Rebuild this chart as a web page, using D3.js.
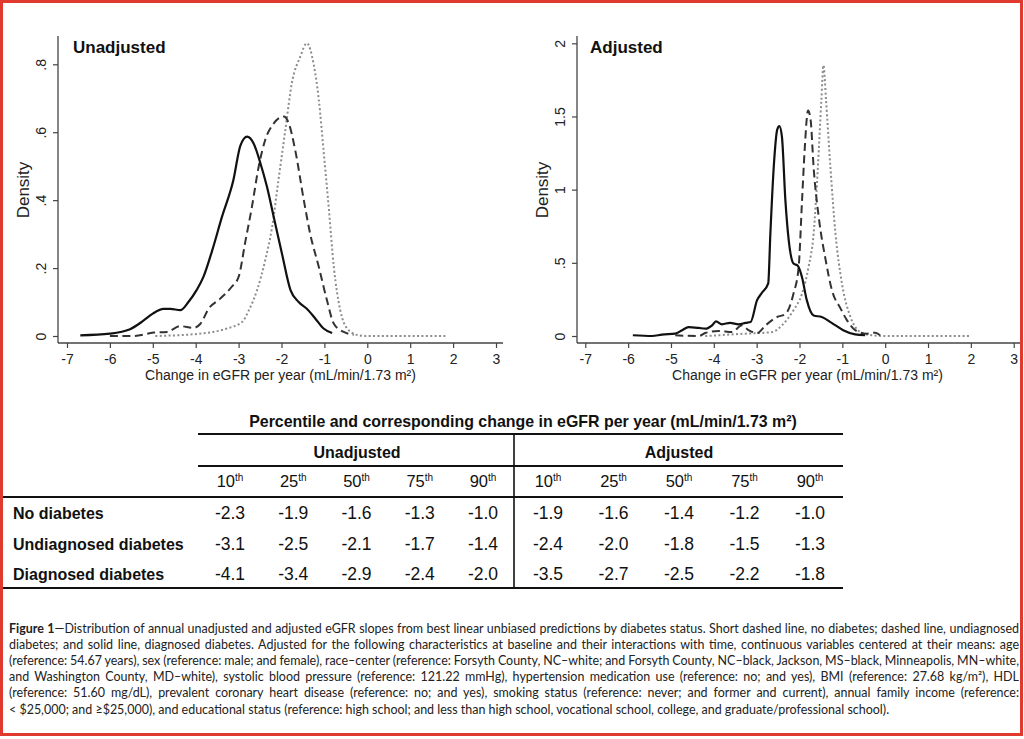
<!DOCTYPE html>
<html><head><meta charset="utf-8">
<script src="https://cdn.jsdelivr.net/npm/d3@7"></script>
<style>body{margin:0;background:#fff}svg{display:block}</style>
</head><body>
<svg id="c" width="1024" height="739"></svg>
<script>
// ---------- data ----------
const xTicks = [-7,-6,-5,-4,-3,-2,-1,0,1,2,3];
const yTicksUnadjusted = [0,0.2,0.4,0.6,0.8];
const yTicksAdjusted = [0,0.5,1,1.5,2];

// Unadjusted densities [slope, density]
const unadjNoDiabetes = [[-4.94,0],[-3.89,0.007],[-3.27,0.022],[-2.92,0.041],[-2.76,0.076],[-2.57,0.135],[-2.38,0.223],[-2.22,0.32],[-2.07,0.46],[-1.91,0.607],[-1.76,0.744],[-1.56,0.823],[-1.41,0.862],[-1.25,0.80],[-1.13,0.695],[-1.02,0.547],[-0.90,0.38],[-0.78,0.203],[-0.63,0.076],[-0.47,0.022],[-0.20,0.002],[0,0],[1.86,0]];
const unadjUndiagnosed = [[-6.0,0],[-5.45,0],[-4.98,0.01],[-4.67,0.012],[-4.36,0.029],[-4.05,0.024],[-3.89,0.036],[-3.70,0.08],[-3.43,0.11],[-3.16,0.145],[-3.0,0.174],[-2.84,0.28],[-2.69,0.38],[-2.53,0.50],[-2.38,0.577],[-2.18,0.626],[-1.95,0.646],[-1.83,0.626],[-1.68,0.547],[-1.48,0.40],[-1.33,0.30],[-1.13,0.203],[-0.94,0.105],[-0.78,0.036],[-0.55,0.012],[-0.32,0.004]];
const unadjDiagnosed = [[-6.69,0.002],[-6.0,0.007],[-5.53,0.02],[-5.22,0.045],[-5.0,0.066],[-4.75,0.08],[-4.59,0.08],[-4.36,0.076],[-4.17,0.10],[-3.98,0.135],[-3.82,0.174],[-3.62,0.25],[-3.39,0.35],[-3.12,0.46],[-2.96,0.56],[-2.80,0.587],[-2.65,0.567],[-2.49,0.508],[-2.34,0.44],[-2.18,0.35],[-1.99,0.243],[-1.79,0.135],[-1.60,0.10],[-1.41,0.08],[-1.21,0.051],[-1.02,0.022],[-0.82,0.009]];

// Adjusted densities [slope, density]
const adjNoDiabetes = [[-4.20,0],[-3.26,0.016],[-2.64,0.027],[-2.41,0.073],[-2.14,0.176],[-1.94,0.29],[-1.79,0.47],[-1.67,0.70],[-1.57,1.16],[-1.49,1.61],[-1.44,1.85],[-1.38,1.61],[-1.28,1.16],[-1.16,0.70],[-1.01,0.36],[-0.81,0.13],[-0.58,0.027],[-0.31,0.005],[0,0],[1.98,0]];
const adjUndiagnosed = [[-4.90,0.005],[-4.35,0],[-4.20,0.02],[-3.89,0.035],[-3.58,0.027],[-3.34,0.073],[-3.19,0.04],[-2.99,0.02],[-2.79,0.073],[-2.52,0.13],[-2.33,0.15],[-2.14,0.29],[-2.02,0.47],[-1.94,0.93],[-1.88,1.27],[-1.80,1.54],[-1.74,1.475],[-1.67,1.15],[-1.55,0.81],[-1.39,0.52],[-1.24,0.31],[-1.04,0.187],[-0.89,0.107],[-0.70,0.04],[-0.43,0.016],[-0.23,0.023],[-0.12,0.005]];
const adjDiagnosed = [[-5.89,0.005],[-5.44,0],[-5.21,0.01],[-4.90,0.016],[-4.74,0.04],[-4.59,0.06],[-4.35,0.055],[-4.20,0.05],[-4.04,0.073],[-3.95,0.10],[-3.81,0.08],[-3.62,0.09],[-3.42,0.08],[-3.26,0.09],[-3.14,0.096],[-2.99,0.245],[-2.89,0.29],[-2.73,0.36],[-2.68,0.70],[-2.60,1.16],[-2.52,1.41],[-2.47,1.434],[-2.41,1.36],[-2.33,0.93],[-2.25,0.65],[-2.14,0.495],[-2.04,0.48],[-1.94,0.40],[-1.83,0.245],[-1.67,0.14],[-1.48,0.13],[-1.25,0.09],[-0.98,0.04],[-0.70,0.011],[-0.47,0.005]];

// Table
const groups = ["No diabetes","Undiagnosed diabetes","Diagnosed diabetes"];
const percentiles = ["10","25","50","75","90"];
const unadjustedPct = [[-2.3,-1.9,-1.6,-1.3,-1.0],[-3.1,-2.5,-2.1,-1.7,-1.4],[-4.1,-3.4,-2.9,-2.4,-2.0]];
const adjustedPct = [[-1.9,-1.6,-1.4,-1.2,-1.0],[-2.4,-2.0,-1.8,-1.5,-1.3],[-3.5,-2.7,-2.5,-2.2,-1.8]];

const captionLines = [
 "Figure 1—Distribution of annual unadjusted and adjusted eGFR slopes from best linear unbiased predictions by diabetes status. Short dashed line, no diabetes; dashed line, undiagnosed",
 "diabetes; and solid line, diagnosed diabetes. Adjusted for the following characteristics at baseline and their interactions with time, continuous variables centered at their means: age",
 "(reference: 54.67 years), sex (reference: male; and female), race–center (reference: Forsyth County, NC–white; and Forsyth County, NC–black, Jackson, MS–black, Minneapolis, MN–white,",
 "and Washington County, MD–white), systolic blood pressure (reference: 121.22 mmHg), hypertension medication use (reference: no; and yes), BMI (reference: 27.68 kg/m²), HDL",
 "(reference: 51.60 mg/dL), prevalent coronary heart disease (reference: no; and yes), smoking status (reference: never; and former and current), annual family income (reference:",
 "< $25,000; and ≥$25,000), and educational status (reference: high school; and less than high school, vocational school, college, and graduate/professional school)."
];

// ---------- drawing ----------
const svg = d3.select("#c");
const SANS = "Arial, 'Liberation Sans', Helvetica, sans-serif";
svg.append("rect").attr("width",1024).attr("height",739).attr("fill","#fff");

const styles = {
  none: {stroke:"#8c8c8c", width:2, dash:"2,2.4"},
  undiag: {stroke:"#333", width:2, dash:"8,4.5"},
  diag: {stroke:"#111", width:2.2, dash:null}
};

function fmtY(d){ if(d===0) return "0"; let s = String(d); return s.replace(/^0\./,"."); }

function panel(cfg){
  const g = svg.append("g");
  const x = d3.scaleLinear().domain([-7,3]).range(cfg.xr);
  const y = d3.scaleLinear().domain([0, cfg.ymax]).range([336, cfg.ytop]);
  g.append("line").attr("x1",cfg.ax).attr("x2",cfg.ax).attr("y1",36).attr("y2",343).attr("stroke","#444").attr("stroke-width",1.3);
  g.append("line").attr("x1",cfg.ax).attr("x2",cfg.axEnd).attr("y1",343).attr("y2",343).attr("stroke","#444").attr("stroke-width",1.3);
  const xa = g.append("g").attr("transform","translate(0,343)")
    .call(d3.axisBottom(x).tickValues(xTicks).tickSize(5).tickPadding(6).tickFormat(d=>String(d)));
  xa.select(".domain").remove();
  xa.selectAll("line").attr("stroke","#444").attr("stroke-width",1.2);
  xa.selectAll("text").attr("font-family",SANS).attr("font-size",14).attr("fill","#222");
  const ya = g.append("g").attr("transform",`translate(${cfg.ax},0)`)
    .call(d3.axisLeft(y).tickValues(cfg.yt).tickSize(5).tickFormat(fmtY));
  ya.select(".domain").remove();
  ya.selectAll("line").attr("stroke","#444").attr("stroke-width",1.2);
  ya.selectAll("text").attr("font-family",SANS).attr("font-size",14).attr("fill","#222")
    .attr("transform","rotate(-90)").attr("x",0).attr("y",-12).attr("dy",0).attr("text-anchor","middle");
  g.append("text").attr("transform",`translate(${cfg.ax-29},190) rotate(-90)`).attr("text-anchor","middle")
    .attr("font-family",SANS).attr("font-size",17).attr("fill","#222").text("Density");
  g.append("text").attr("x",cfg.xtc).attr("y",380).attr("text-anchor","middle")
    .attr("font-family",SANS).attr("font-size",14).attr("fill","#222").text("Change in eGFR per year (mL/min/1.73 m²)");
  g.append("text").attr("x",cfg.ax+cfg.labelDx).attr("y",53).attr("font-family",SANS).attr("font-weight","bold")
    .attr("font-size",17).attr("fill","#111").text(cfg.label);
  const line = d3.line().x(d=>x(d[0])).y(d=>y(d[1])).curve(d3.curveMonotoneX);
  cfg.series.forEach(([data,st])=>{
    g.append("path").attr("d",line(data)).attr("fill","none").attr("stroke",st.stroke)
     .attr("stroke-width",st.width).attr("stroke-dasharray",st.dash).attr("stroke-linejoin","round");
  });
}

panel({xr:[67,496], ymax:0.8, ytop:64.3, yt:yTicksUnadjusted, ax:58, axEnd:503, xtc:280.5, label:"Unadjusted", labelDx:15,
  series:[[unadjNoDiabetes,styles.none],[unadjUndiagnosed,styles.undiag],[unadjDiagnosed,styles.diag]]});
panel({xr:[585.3,1013.7], ymax:2, ytop:43.3, yt:yTicksAdjusted, ax:577, axEnd:1020, xtc:807.5, label:"Adjusted", labelDx:13,
  series:[[adjNoDiabetes,styles.none],[adjUndiagnosed,styles.undiag],[adjDiagnosed,styles.diag]]});

// ---------- table ----------
const t = svg.append("g").attr("font-family",SANS).attr("fill","#111");
const title = t.append("text").attr("x",523).attr("y",427).attr("text-anchor","middle").attr("font-weight","bold").attr("font-size",15)
  .text("Percentile and corresponding change in eGFR per year (mL/min/1.73 m²)");
{ const w = title.node().getComputedTextLength(); title.attr("font-size", 15*548/w); }
const hl = (x1,x2,yy)=>t.append("line").attr("x1",x1).attr("x2",x2).attr("y1",yy).attr("y2",yy).attr("stroke","#111").attr("stroke-width",2);
hl(198,843,434); hl(198,843,466); hl(2,843,497); hl(2,843,588);
t.append("line").attr("x1",514).attr("x2",514).attr("y1",434).attr("y2",588).attr("stroke","#111").attr("stroke-width",1.6);
t.append("text").attr("x",357).attr("y",458).attr("text-anchor","middle").attr("font-weight","bold").attr("font-size",16).text("Unadjusted");
t.append("text").attr("x",679).attr("y",458).attr("text-anchor","middle").attr("font-weight","bold").attr("font-size",16).text("Adjusted");

const colU = d3.scalePoint().domain(percentiles).range([230,483]);
const colA = d3.scalePoint().domain(percentiles).range([548,810]);
const rowY = d3.scalePoint().domain(groups).range([519,580]);
[colU,colA].forEach(col=>{
  percentiles.forEach(p=>{
    const tx = t.append("text").attr("x",col(p)).attr("y",487).attr("text-anchor","middle").attr("font-size",16.5);
    tx.append("tspan").text(p);
    tx.append("tspan").attr("font-size",10).attr("dy",-6).text("th");
  });
});
groups.forEach((gname,i)=>{
  t.append("text").attr("x",13).attr("y",rowY(gname)).attr("font-weight","bold").attr("font-size",16).text(gname);
  percentiles.forEach((p,j)=>{
    t.append("text").attr("x",colU(p)).attr("y",rowY(gname)).attr("text-anchor","middle").attr("font-size",17.5).text(unadjustedPct[i][j].toFixed(1));
    t.append("text").attr("x",colA(p)).attr("y",rowY(gname)).attr("text-anchor","middle").attr("font-size",17.5).text(adjustedPct[i][j].toFixed(1));
  });
});

// ---------- caption ----------
const CAP = "Lato, 'Open Sans', sans-serif";
const cg = svg.append("g").attr("font-family",CAP).attr("fill","#222");
const probe = cg.append("text").attr("font-size",13).text(captionLines[5]);
const capSize = 13*881/probe.node().getComputedTextLength();
probe.remove();
captionLines.forEach((ln,i)=>{
  const tx = cg.append("text").attr("x",9).attr("y",632.5+16.2*i).attr("font-size",capSize).attr("xml:space","preserve");
  if(i===0){
    tx.append("tspan").attr("font-weight","bold").text("Figure 1");
    tx.append("tspan").text(ln.slice("Figure 1".length));
  } else tx.text(ln);
  if(i<captionLines.length-1){
    const w = tx.node().getComputedTextLength();
    const n = (ln.match(/ /g)||[]).length;
    tx.attr("word-spacing",(1010-w)/n);
  }
});

// red frame
svg.append("rect").attr("x",1.5).attr("y",1.5).attr("width",1020).attr("height",733)
  .attr("fill","none").attr("stroke","#e0392d").attr("stroke-width",3);
</script>
</body></html>
